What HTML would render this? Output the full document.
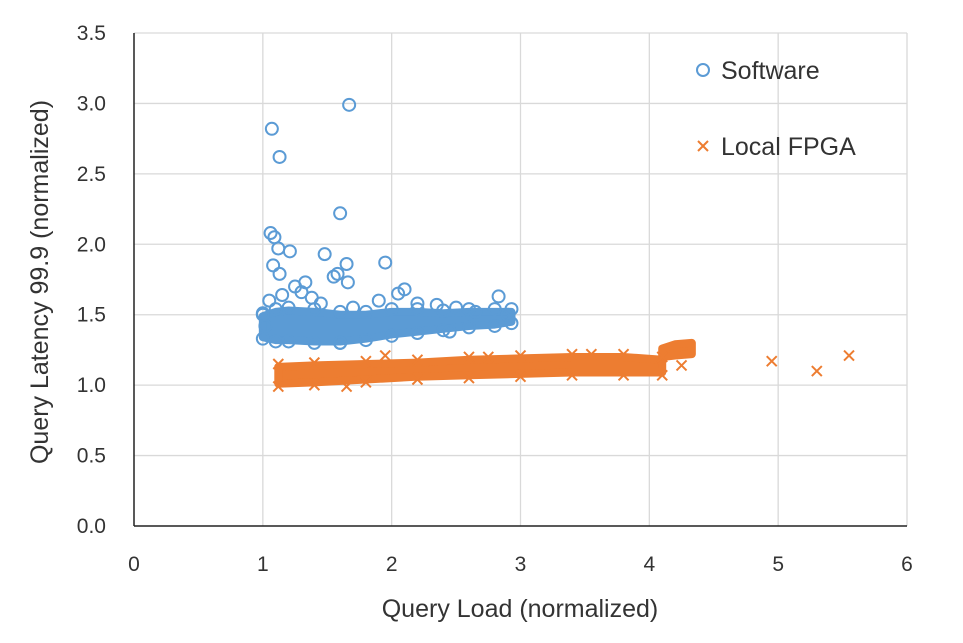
<!DOCTYPE html>
<html><head><meta charset="utf-8"><style>
body{margin:0;background:#fff;}
svg text{font-family:"Liberation Sans",sans-serif;fill:#333;}
</style></head><body>
<svg id="c" width="963" height="638" xmlns="http://www.w3.org/2000/svg"></svg>
<script>
const xTicks=[0,1,2,3,4,5,6];
const yTicks=[0,0.5,1,1.5,2,2.5,3,3.5];
const yTickLabels=["0.0","0.5","1.0","1.5","2.0","2.5","3.0","3.5"];
const swBandX=[1.0,1.1,1.2,1.4,1.6,1.8,2.0,2.2,2.4,2.6,2.8,2.93];
const swBandLo=[1.34,1.32,1.32,1.31,1.31,1.33,1.36,1.38,1.40,1.42,1.43,1.45];
const swBandHi=[1.49,1.52,1.53,1.52,1.50,1.50,1.52,1.52,1.51,1.52,1.52,1.52];
const swX=[1.07,1.13,1.67,1.6,1.06,1.09,1.12,1.21,1.48,1.65,1.95,1.08,1.13,1.55,1.58,1.66,2.83,1.0,1.05,1.25,1.3,1.33,2.05,2.1,2.35,1.6,1.38,1.45,1.9,2.2,2.5,2.65,1.15,1.7,2.45,1.02,2.9];
const swY=[2.82,2.62,2.99,2.22,2.08,2.05,1.97,1.95,1.93,1.86,1.87,1.85,1.79,1.77,1.79,1.73,1.63,1.50,1.60,1.70,1.66,1.73,1.65,1.68,1.57,1.30,1.62,1.58,1.60,1.58,1.55,1.52,1.64,1.55,1.38,1.42,1.50];
const fpBandX=[1.12,1.4,1.8,2.2,2.6,3.0,3.4,3.8,4.1];
const fpBandLo=[1.01,1.02,1.04,1.06,1.07,1.08,1.09,1.09,1.09];
const fpBandHi=[1.13,1.14,1.15,1.16,1.18,1.19,1.20,1.20,1.18];
const fp2BandX=[4.1,4.2,4.33];
const fp2BandLo=[1.20,1.21,1.22];
const fp2BandHi=[1.26,1.29,1.30];
const fpX=[4.25,4.95,5.3,5.55,1.95,1.65,2.75,3.55];
const fpY=[1.14,1.17,1.10,1.21,1.21,0.99,1.20,1.22];

const svg=document.getElementById('c');
const NS="http://www.w3.org/2000/svg";
const X0=134,X1=907,Y0=526,Y1=33;
const sx=v=>X0+(X1-X0)*v/6;
const sy=v=>Y0-(Y0-Y1)*v/3.5;
function mk(t,a,p){const e=document.createElementNS(NS,t);for(const k in a)e.setAttribute(k,a[k]);(p||svg).appendChild(e);return e;}

const grid=mk('g',{});


xTicks.forEach((v,i)=>{
  if(v>0)mk('line',{x1:sx(v),x2:sx(v),y1:Y1,y2:Y0,stroke:'#d9d9d9','stroke-width':1.3},grid);
  const t=mk('text',{x:sx(v),y:571,'font-size':21,'text-anchor':'middle'});
  t.textContent=v;
  
  
});
yTicks.forEach((v,i)=>{
  if(v>0)mk('line',{x1:X0,x2:X1,y1:sy(v),y2:sy(v),stroke:'#d9d9d9','stroke-width':1.3},grid);
  const t=mk('text',{x:106,y:sy(v)+7,'font-size':21,'text-anchor':'end'});
  t.textContent=yTickLabels[i];
  
  
});
mk('line',{x1:X0,x2:X0,y1:Y1,y2:Y0,stroke:'#222','stroke-width':1.5});
mk('line',{x1:X0,x2:X1,y1:Y0,y2:Y0,stroke:'#222','stroke-width':1.5});

function band(xs,lo,hi,col,name){
  let pts=xs.map((x,i)=>sx(x)+','+sy(hi[i]));
  for(let i=xs.length-1;i>=0;i--)pts.push(sx(xs[i])+','+sy(lo[i]));
  const p=mk('polygon',{points:pts.join(' '),fill:col,stroke:col,'stroke-width':8,'stroke-linejoin':'round'});
  
  
}
function circ(x,y){const c=mk('circle',{cx:sx(x),cy:sy(y),r:6,fill:'none',stroke:'#5b9bd5','stroke-width':2});
  
  }
function cross(x,y){const g=mk('path',{d:`M${sx(x)-5},${sy(y)-5}L${sx(x)+5},${sy(y)+5}M${sx(x)-5},${sy(y)+5}L${sx(x)+5},${sy(y)-5}`,stroke:'#ed7d31','stroke-width':2});
  
  }

band(swBandX,swBandLo,swBandHi,'#5b9bd5','software-dense-cluster');
swBandX.forEach((x,i)=>{circ(x,swBandHi[i]+0.02);circ(x,swBandLo[i]-0.01);});
swX.forEach((x,i)=>circ(x,swY[i]));
band(fpBandX,fpBandLo,fpBandHi,'#ed7d31','fpga-dense-cluster');
band(fp2BandX,fp2BandLo,fp2BandHi,'#ed7d31','fpga-dense-cluster-2');
fpBandX.forEach((x,i)=>{cross(x,fpBandHi[i]+0.02);cross(x,fpBandLo[i]-0.02);});
fpX.forEach((x,i)=>cross(x,fpY[i]));

const lc=mk('circle',{cx:703,cy:70,r:6,fill:'none',stroke:'#5b9bd5','stroke-width':2});


const lt=mk('text',{x:721,y:79,'font-size':25});lt.textContent='Software';


mk('path',{d:'M698,141L708,151M698,151L708,141',stroke:'#ed7d31','stroke-width':2});
const lt2=mk('text',{x:721,y:155,'font-size':25});lt2.textContent='Local FPGA';



const xt=mk('text',{x:520,y:617,'font-size':25,'text-anchor':'middle'});xt.textContent='Query Load (normalized)';


const yt=mk('text',{x:0,y:0,'font-size':25,'text-anchor':'middle',transform:'translate(48,282) rotate(-90)'});yt.textContent='Query Latency 99.9 (normalized)';


</script>
</body></html>
